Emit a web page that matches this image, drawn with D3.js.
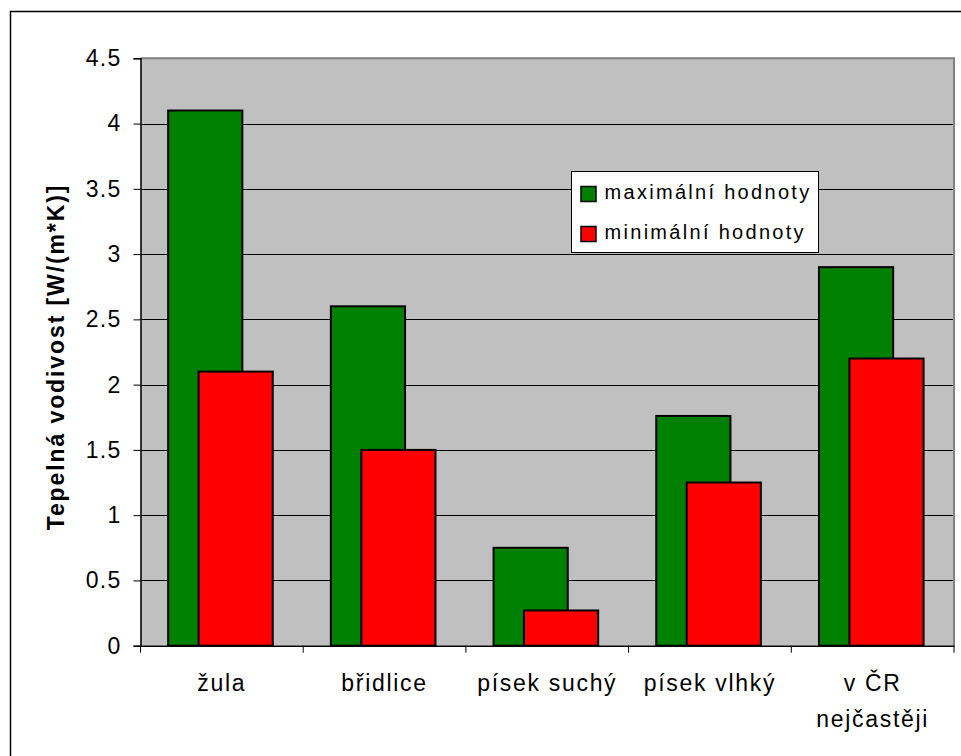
<!DOCTYPE html>
<html>
<head>
<meta charset="utf-8">
<script src="https://cdn.jsdelivr.net/npm/d3@7"></script>
<style>
  html, body { margin: 0; padding: 0; background: #ffffff; }
  svg { display: block; }
  text { font-family: Arial, "Liberation Sans", sans-serif; fill: #000; }
</style>
</head>
<body>
<svg id="chart" width="961" height="756"></svg>
<script>
// Thermal conductivity of rocks, W/(m*K)
const categories = [["žula"], ["břidlice"], ["písek suchý"], ["písek vlhký"], ["v ČR", "nejčastěji"]];
const maxValues = [4.1, 2.6, 0.75, 1.76, 2.9];
const minValues = [2.1, 1.5, 0.27, 1.25, 2.2];
const seriesNames = ["maximální hodnoty", "minimální hodnoty"];
const seriesColors = ["#008000", "#ff0000"];
const yTicks = [0, 0.5, 1, 1.5, 2, 2.5, 3, 3.5, 4, 4.5];
const yTitle = "Tepelná vodivost [W/(m*K)]";

const svg = d3.select("#chart");
const plot = { left: 140.5, right: 954, top: 58.3, bottom: 645.7 };

// outer chart frame
svg.append("rect")
  .attr("x", 10.5).attr("y", 11.5).attr("width", 970).attr("height", 770)
  .attr("fill", "#fff").attr("stroke", "#000").attr("stroke-width", 1.5);

const x = d3.scaleBand()
  .domain(categories.map(c => c.join(" ")))
  .range([plot.left, plot.right])
  .padding(0);

const y = d3.scaleLinear().domain([0, 4.5]).range([plot.bottom, plot.top]);

// plot background
svg.append("rect")
  .attr("x", plot.left).attr("y", plot.top)
  .attr("width", plot.right - plot.left).attr("height", plot.bottom - plot.top)
  .attr("fill", "#c0c0c0");

// gridlines
svg.append("g").selectAll("line").data(yTicks.filter(t => t > 0 && t < 4.5)).join("line")
  .attr("x1", plot.left).attr("x2", plot.right)
  .attr("y1", d => Math.round(y(d)) + 0.5).attr("y2", d => Math.round(y(d)) + 0.5)
  .attr("stroke", "#000").attr("stroke-width", 1);

// plot border (top/right)
svg.append("path")
  .attr("d", `M${plot.left},${plot.top}H${plot.right}V${plot.bottom}`)
  .attr("fill", "none").attr("stroke", "#808080").attr("stroke-width", 2);

// bars
const bw = x.bandwidth();
const barW = bw * 0.456;
const series = [maxValues, minValues];
const offsets = [0.17, 0.357];
series.forEach((vals, si) => {
  svg.append("g").selectAll("rect").data(vals).join("rect")
    .attr("x", (d, i) => x(categories[i].join(" ")) + bw * offsets[si])
    .attr("y", d => y(d))
    .attr("width", barW)
    .attr("height", d => y(0) - y(d))
    .attr("fill", seriesColors[si])
    .attr("stroke", "#000")
    .attr("stroke-width", 2);
});

// y axis
const yAxis = d3.axisLeft(y).tickValues(yTicks).tickSize(7).tickPadding(12)
  .tickFormat(d => String(d));
const gy = svg.append("g").attr("transform", `translate(${plot.left},0)`).call(yAxis);
gy.select(".domain").attr("stroke", "#000").attr("stroke-width", 1.5);
gy.selectAll(".tick line").attr("stroke", "#000");
gy.selectAll(".tick text")
  .attr("font-size", 23).attr("letter-spacing", 1.3)
  .style("font-family", "Arial, 'Liberation Sans', sans-serif").attr("fill", "#000");

// x axis
const xAxis = d3.axisBottom(x).tickSize(0).tickFormat("");
const gx = svg.append("g").attr("transform", `translate(0,${plot.bottom})`).call(xAxis);
gx.select(".domain").attr("stroke", "#000").attr("stroke-width", 1.5);
// category separator ticks
svg.append("g").selectAll("line")
  .data(categories.map(c => x(c.join(" "))).concat([plot.right]))
  .join("line")
  .attr("x1", d => d).attr("x2", d => d)
  .attr("y1", plot.bottom).attr("y2", plot.bottom + 7)
  .attr("stroke", "#000").attr("stroke-width", 1);

// category labels
categories.forEach(lines => {
  const cx = x(lines.join(" ")) + bw / 2;
  const t = svg.append("text")
    .attr("x", cx).attr("y", 691)
    .attr("text-anchor", "middle")
    .attr("font-size", 23).attr("letter-spacing", 1.7);
  lines.forEach((ln, j) => {
    t.append("tspan").attr("x", cx).attr("y", 691 + j * 36).text(ln);
  });
});

// y axis title
svg.append("text")
  .attr("transform", `translate(63.5,357) rotate(-90)`)
  .attr("text-anchor", "middle")
  .attr("font-size", 23).attr("font-weight", "bold").attr("letter-spacing", 1.9)
  .text(yTitle);

// legend
const lg = svg.append("g").attr("transform", "translate(571.5,171.5)");
lg.append("rect").attr("width", 247).attr("height", 81)
  .attr("fill", "#fff").attr("stroke", "#000").attr("stroke-width", 1);
seriesNames.forEach((name, i) => {
  const yy = 15 + i * 40;
  lg.append("rect").attr("x", 9.5).attr("y", yy).attr("width", 15).attr("height", 15)
    .attr("fill", seriesColors[i]).attr("stroke", "#000").attr("stroke-width", 1.5);
  lg.append("text").attr("x", 33).attr("y", yy + 12)
    .attr("font-size", 20).attr("letter-spacing", 2.3)
    .text(name);
});
</script>
</body>
</html>
